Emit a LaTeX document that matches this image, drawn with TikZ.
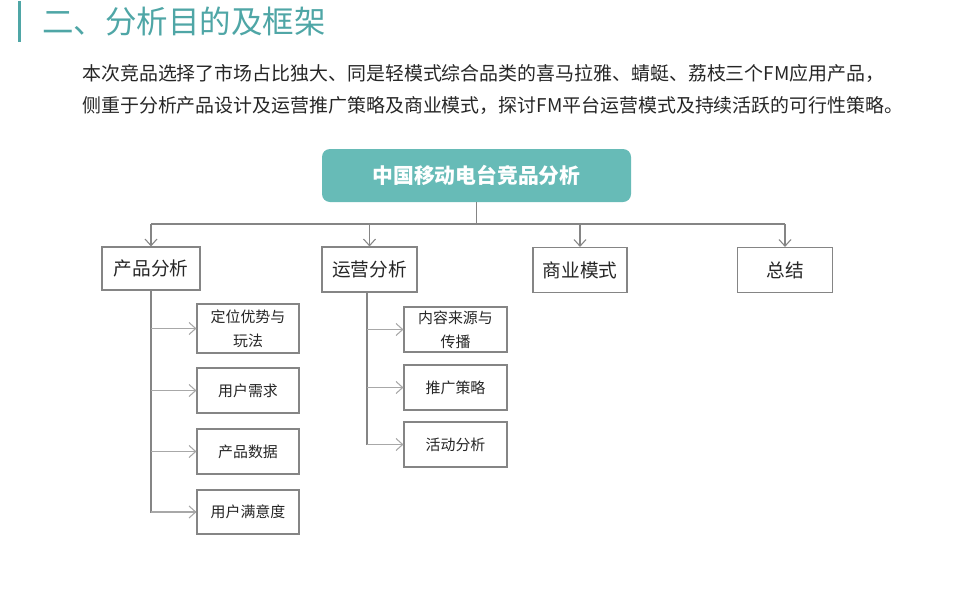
\documentclass[tikz,border=0pt]{standalone}
\usepackage{fontspec}
\setmainfont{Noto Sans CJK SC}
\usetikzlibrary{arrows.meta}
\definecolor{tealtitle}{HTML}{4FA6A6}
\definecolor{boxfill}{HTML}{67BBB7}
\definecolor{lineA}{HTML}{858585}
\definecolor{lineB}{HTML}{A8A8A8}
\definecolor{txt}{HTML}{262626}
\begin{document}
\begin{tikzpicture}[x=0.75pt,y=-0.75pt,
  midbox/.style={draw=lineA, line width=0.8pt, minimum width=72pt, minimum height=33.75pt, inner sep=0pt, text=txt, font=\fontsize{14}{16}\selectfont},
  subbox/.style={draw=lineA, line width=0.8pt, minimum width=76.5pt, minimum height=33.75pt, inner sep=0pt, text=txt, align=center, font=\fontsize{11.2}{18}\selectfont},
  mainarrow/.style={draw=lineA, line width=0.8pt, -{Straight Barb[length=5pt,width=9pt]}},
  mainline/.style={draw=lineA, line width=0.8pt},
  brancharrow/.style={draw=lineB, line width=0.8pt, -{Straight Barb[length=5pt,width=9pt]}},
  para/.style={anchor=west, inner sep=0pt, text=txt, font=\fontsize{14.2}{16}\selectfont}
]
\useasboundingbox (0,0) rectangle (960,600);
% title
\fill[tealtitle] (18,1) rectangle (21,42);
\node[anchor=west, inner sep=0pt, text=tealtitle, font=\fontsize{23.6}{26}\selectfont] (title) at (42,22) {二、分析目的及框架};
% paragraph
\node[para] (p1) at (82,73) {本次竞品选择了市场占比独大、同是轻模式综合品类的喜马拉雅、蜻蜓、荔枝三个FM应用产品，};
\node[para] (p2) at (82,106) {侧重于分析产品设计及运营推广策略及商业模式，探讨FM平台运营模式及持续活跃的可行性策略。};
% top box
\node[fill=boxfill, rounded corners=6pt, minimum width=231.75pt, minimum height=39.75pt, inner sep=0pt, text=white, font=\fontsize{15.6}{18}\bfseries\selectfont] (top) at (476.5,175.5) {中国移动电台竞品分析};
% mid boxes
\node[midbox, minimum width=73.5pt, minimum height=32.25pt] (pa) at (151,268.5) {产品分析};
\node[midbox, minimum width=71.25pt] (ya) at (369.5,269.5) {运营分析};
\node[midbox, minimum width=70.5pt] (sy) at (580,270) {商业模式};
\node[midbox, minimum width=71.25pt] (zj) at (785,270) {总结};
% connectors from top
\coordinate (j) at (476.5,224);
\draw[mainline] (top.south) -- (j);
\draw[mainline] (pa.north |- j) -- (zj.north |- j);
\foreach \n in {pa,ya,sy,zj} \draw[mainarrow] (\n.north |- j) -- (\n.north);
% product sub boxes
\node[subbox, minimum height=36.75pt] (s1) at (248,328.5) {定位优势与\\玩法};
\node[subbox] (s2) at (248,390.5) {用户需求};
\node[subbox] (s3) at (248,451.5) {产品数据};
\node[subbox, minimum height=33pt] (s4) at (248,512) {用户满意度};
\draw[mainline] (pa.south) |- (s4.west);
\foreach \n in {s1,s2,s3,s4} \draw[brancharrow] (pa.south |- \n.west) -- (\n.west);
% operation sub boxes
\node[subbox, minimum width=77.25pt] (o1) at (455.5,329.5) {内容来源与\\传播};
\node[subbox, minimum width=77.25pt] (o2) at (455.5,387.5) {推广策略};
\node[subbox, minimum width=77.25pt] (o3) at (455.5,444.5) {活动分析};
\coordinate (yb) at (367,292);
\draw[mainline] (yb) |- (o3.west);
\foreach \n in {o1,o2,o3} \draw[brancharrow] (yb |- \n.west) -- (\n.west);
\end{tikzpicture}
\end{document}
